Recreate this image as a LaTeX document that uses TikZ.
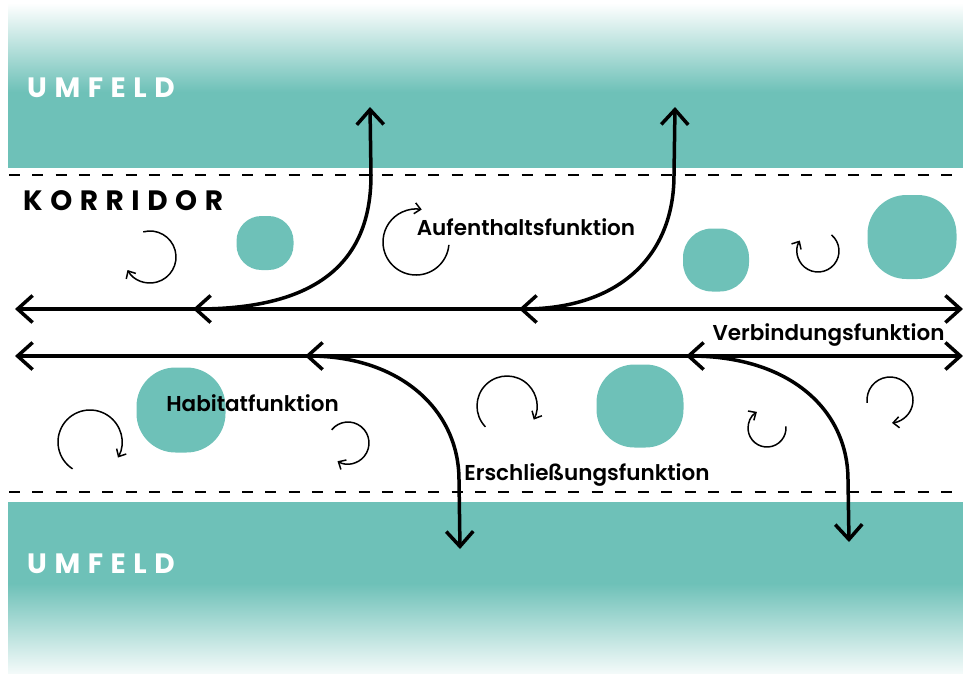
\documentclass[tikz,border=0pt]{standalone}
\usepackage{fontspec}
\setmainfont{Poppins}
\newfontfamily\zonefont[LetterSpace=27]{Poppins Bold}
\newfontfamily\funcfont{Poppins SemiBold}
\usepackage{xcolor}
\definecolor{umfeld}{RGB}{110,193,184}
\usepackage{tikz}
\usetikzlibrary{arrows.meta}
\newcommand{\flowwidth}{3.5pt}
\newcommand{\swirlwidth}{1.5pt}
\newcommand{\swirl}[4]{\draw[swirl] (#1) ++(#2:#4) arc[start angle=#2, end angle=#3, radius=#4];}
\tikzset{
    band/.style={fill=umfeld, draw=none},
    border/.style={line width=2.2pt, dash pattern=on 11pt off 12.3pt},
    blob/.style={fill=umfeld, draw=none, rectangle, inner sep=0pt},
    flow/.style={line width=\flowwidth, {Straight Barb[length=15pt, width=27pt]}-{Straight Barb[length=15pt, width=27pt]}},
    swirl/.style={line width=\swirlwidth, -{Straight Barb[length=6pt, width=11pt]}},
    zone/.style={font=\zonefont\fontsize{28}{28}\selectfont, inner sep=0pt, anchor=base west},
    func/.style={font=\funcfont\fontsize{21.5}{22}\selectfont, inner sep=0pt, anchor=base}
}

\begin{document}
\begin{tikzpicture}[x=1pt, y=-1pt]
    \useasboundingbox (0,0) rectangle (963,673);

    \shade[top color=white, bottom color=umfeld] (8,3) rectangle (963,92);
    \path[band] (8,91.5) rectangle (963,168);
    \path[band] (8,502) rectangle (963,584);
    \shade[top color=umfeld, bottom color=umfeld!8] (8,583.5) rectangle (963,673);
    \draw[border] (9,175) -- (963,175);
    \draw[border] (9,492) -- (963,492);

    \node[zone, white] (umfeld-top) at (27,97) {UMFELD};
    \node[zone, black] (korridor) at (23,210) {KORRIDOR};
    \node[zone, white] (umfeld-bottom) at (27,573) {UMFELD};

    \node[blob, minimum width=57pt, minimum height=54pt, rounded corners=25pt] (blob-a) at (265,243) {};
    \node[blob, minimum width=66pt, minimum height=63pt, rounded corners=29pt] (blob-b) at (716,260) {};
    \node[blob, minimum width=89pt, minimum height=84pt, rounded corners=39pt] (blob-c) at (912,237) {};
    \node[blob, minimum width=89pt, minimum height=85pt, rounded corners=39pt] (blob-d) at (181,410) {};
    \node[blob, minimum width=87pt, minimum height=83pt, rounded corners=38pt] (blob-e) at (640,406) {};

    \coordinate (sw-a) at (150,257);
    \coordinate (sw-b) at (416,242);
    \coordinate (sw-c) at (818,251);
    \coordinate (sw-d) at (90,442);
    \coordinate (sw-e) at (348,443);
    \coordinate (sw-f) at (507,406);
    \coordinate (sw-g) at (767,428);
    \coordinate (sw-h) at (890,400);
    \swirl{sw-a}{-105}{150}{26}
    \swirl{sw-b}{5}{280}{33}
    \swirl{sw-c}{-50}{210}{21}
    \swirl{sw-d}{-237}{29}{32}
    \swirl{sw-e}{-141}{120}{21}
    \swirl{sw-f}{-224}{27}{30}
    \swirl{sw-g}{-5}{238}{19}
    \swirl{sw-h}{-187}{85}{23}

    \node[func] (aufenthalt) at (526,235) {Aufenthaltsfunktion};
    \node[func] (verbindung) at (828.5,340) {Verbindungsfunktion};
    \node[func] (habitat) at (252.5,411) {Habitatfunktion};
    \node[func] (erschliessung) at (587,480) {Erschließungsfunktion};

    \coordinate (line1-w) at (15,309);
    \coordinate (line1-e) at (963,309);
    \coordinate (line2-w) at (15,356);
    \coordinate (line2-e) at (963,356);
    \coordinate (out1-w) at (193,309);
    \coordinate (out1-n) at (370,107);
    \coordinate (out2-w) at (519,309);
    \coordinate (out2-n) at (675,107);
    \coordinate (in1-w) at (305,356);
    \coordinate (in1-s) at (460,549);
    \coordinate (in2-w) at (686,356);
    \coordinate (in2-s) at (849,542);

    \draw[flow] (line1-w) -- (line1-e);
    \draw[flow] (line2-w) -- (line2-e);
    \draw[flow] (out1-w) .. controls (320,309) and (371,260) .. (371,175) -- (out1-n);
    \draw[flow] (out2-w) .. controls (620,309) and (674,255) .. (674,175) -- (out2-n);
    \draw[flow] (in1-w) .. controls (400,356) and (459,410) .. (459,480) -- (in1-s);
    \draw[flow] (in2-w) .. controls (790,356) and (848,410) .. (848,480) -- (in2-s);
\end{tikzpicture}
\end{document}
